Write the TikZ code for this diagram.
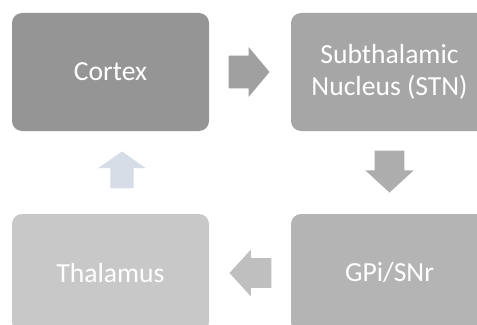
\documentclass[tikz,border=0pt]{standalone}
\usepackage{fontspec}
\setmainfont{Carlito}
\usetikzlibrary{shapes.arrows,calc}
\definecolor{cortexfill}{HTML}{959595}
\definecolor{stnfill}{HTML}{A6A6A6}
\definecolor{gpifill}{HTML}{B4B4B4}
\definecolor{thalfill}{HTML}{C8C8C8}
\definecolor{arrowA}{HTML}{A0A0A0}
\definecolor{arrowB}{HTML}{ADADAD}
\definecolor{arrowC}{HTML}{BFBFBF}
\definecolor{arrowD}{HTML}{D6DDE7}
\tikzset{
  stage/.style={rounded corners=7.5pt, minimum width=147.75pt, minimum height=88.5pt,
    inner sep=0pt, text=white, align=center,
    font=\fontsize{20.7pt}{24pt}\selectfont},
  blockarrow/.style={single arrow, draw=none, inner xsep=0pt,
    single arrow head indent=0pt, anchor=tail}
}
\begin{document}
\begin{tikzpicture}[x=0.75pt,y=-0.75pt]
  \useasboundingbox (0,0) rectangle (477,324);
  \clip (0,0) rectangle (477,324);
  \fill[white] (0,0) rectangle (477,324);

  % four stages of the loop
  \node[stage, fill=cortexfill] (cortex) at (110.5,72) {Cortex};
  \node[stage, fill=stnfill]    (stn)    at (389.5,72) {Subthalamic\\Nucleus (STN)};
  \node[stage, fill=gpifill]    (gpi)    at (389.5,273) {GPi/SNr};
  \node[stage, fill=thalfill]   (thal)   at (110.5,273) {Thalamus};

  % block arrows between neighbouring stages
  \node[blockarrow, fill=arrowA, inner ysep=12pt, minimum height=30.75pt,
        single arrow head extend=6.4pt, single arrow tip angle=100]
        (a1) at ($(cortex.east)+(19,0)$) {};
  \node[blockarrow, fill=arrowB, inner ysep=10.9pt, minimum height=31.5pt,
        single arrow head extend=7.1pt, single arrow tip angle=95, rotate=-90]
        (a2) at ($(stn.south)+(0,19)$) {};
  \node[blockarrow, fill=arrowC, inner ysep=10.9pt, minimum height=31.5pt,
        single arrow head extend=6.4pt, single arrow tip angle=95, rotate=180]
        (a3) at ($(gpi.west)+(-19,0)$) {};
  \node[blockarrow, fill=arrowD, inner ysep=8.6pt, minimum height=27.75pt,
        single arrow head extend=9pt, single arrow tip angle=110, rotate=90]
        (a4) at ($(thal.north)+(11.5,-25)$) {};
\end{tikzpicture}
\end{document}
